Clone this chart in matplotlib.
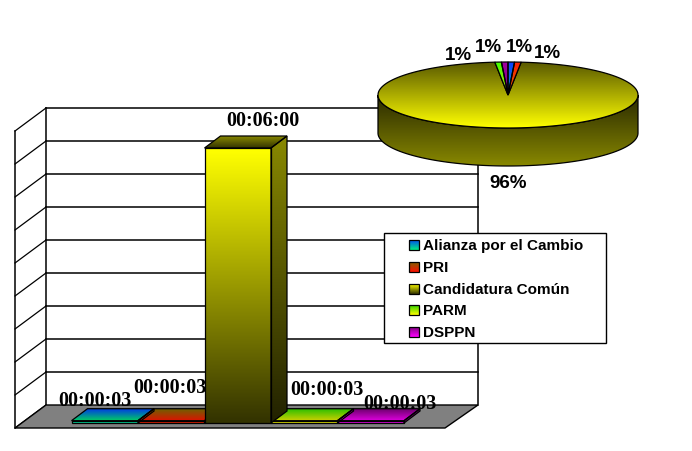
import numpy as np
import matplotlib
matplotlib.use('Agg')
import matplotlib.pyplot as plt
from matplotlib.patches import Polygon, Rectangle

# data
names = ['Alianza por el Cambio', 'PRI', 'Candidatura Común', 'PARM', 'DSPPN']
seconds = [3, 3, 360, 3, 3]
time_labels = ['00:00:03', '00:00:03', '00:06:00', '00:00:03', '00:00:03']
pie_labels = ['1%', '1%', '96%', '1%', '1%']
n_ticks = 9
tick_seconds = 43.2  # 0.0005 of a day

# gradient colours per series, top then bottom
face_top = ['#0050f0', '#806000', '#ffff00', '#30d000', '#800080']
face_bottom = ['#00f080', '#ff1000', '#333300', '#ffff00', '#ff00ff']
roof_top = ['#0040e0', '#706000', '#888800', '#30c000', '#700070']
roof_bottom = ['#00d060', '#e01000', '#333300', '#d0d000', '#e000e0']
side_top = ['#004080', '#603000', '#888800', '#606000', '#600060']
side_bottom = ['#006040', '#601000', '#222200', '#808000', '#800080']
strip = ['#00e0a0', '#f02000', '', '#f0f000', '#f000f0']
pie_top = ['#1040ff', '#ff2000', '', '#40ff00', '#a000a0']
pie_bottom = ['#00a0c0', '#e06000', '', '#c0e000', '#800080']

fig = plt.figure(figsize=(6.92, 4.52), dpi=100)
ax = fig.add_axes([0, 0, 1, 1])
ax.set_xlim(0, 692)
ax.set_ylim(452, 0)
ax.axis('off')

# plot geometry in pixels
wall_l, wall_r, floor_y = 46, 478, 406
wall_dx, wall_dy = 31, 23
tick_px = 33
scale = tick_px / tick_seconds
bar_left, bar_w, bar_base = 71.5, 66.5, 424
bar_dx, bar_dy = 16, 12


def grad(pts, top, bottom, z):
    # polygon filled with a vertical gradient
    pts = np.array(pts)
    c0 = np.array(matplotlib.colors.to_rgb(top))
    c1 = np.array(matplotlib.colors.to_rgb(bottom))
    t = np.linspace(0, 1, 64)[:, None, None]
    img = c0[None, None, :] * (1 - t) + c1[None, None, :] * t
    im = ax.imshow(img, extent=(pts[:, 0].min(), pts[:, 0].max(), pts[:, 1].max(), pts[:, 1].min()),
                   aspect='auto', zorder=z, interpolation='bilinear')
    clip = Polygon(pts, closed=True, transform=ax.transData, fc='none', ec='none')
    ax.add_patch(clip)
    im.set_clip_path(clip)
    ax.add_patch(Polygon(pts, closed=True, fc='none', ec='black', lw=0.9, zorder=z + 0.1))


# walls and gridlines
for i in range(n_ticks + 1):
    y = floor_y - i * tick_px
    if i > 0:
        ax.plot([wall_l, wall_r], [y, y], color='black', lw=1.1, zorder=1)
    ax.plot([wall_l, wall_l - wall_dx], [y, y + wall_dy], color='black', lw=0.9, zorder=1)
top_y = floor_y - n_ticks * tick_px
ax.plot([wall_l, wall_l], [top_y, floor_y], color='black', lw=1.1, zorder=1)
ax.plot([wall_r, wall_r], [top_y, floor_y], color='black', lw=1.1, zorder=1)
ax.plot([wall_l - wall_dx] * 2, [top_y + wall_dy, floor_y + wall_dy], color='black', lw=1.1, zorder=1)

# floor
ax.add_patch(Polygon([(wall_l, floor_y), (wall_r, floor_y), (wall_r - wall_dx - 2, floor_y + wall_dy),
                      (wall_l - wall_dx, floor_y + wall_dy)], closed=True, fc='#808080', ec='black', lw=1, zorder=2))

# labels behind the tall bar
label_x = [95, 170, 263, 327, 400]
label_y = [401, 388, 121, 390, 404]
for i, s in enumerate(time_labels):
    ax.text(label_x[i], label_y[i], s, family='Liberation Serif', weight='bold', fontsize=14.5,
            ha='center', va='center', zorder=3)

# bars, tall one last so it sits on top of its neighbours
for i in [0, 1, 3, 4, 2]:
    x0 = bar_left + i * bar_w
    x1 = x0 + bar_w
    h = seconds[i] * scale
    y0 = bar_base - h
    z = 6 if i == 2 else 5
    grad([(x1, y0), (x1 + bar_dx, y0 - bar_dy), (x1 + bar_dx, bar_base - bar_dy), (x1, bar_base)],
         side_top[i], side_bottom[i], z)
    grad([(x0, y0), (x1, y0), (x1 + bar_dx, y0 - bar_dy), (x0 + bar_dx, y0 - bar_dy)],
         roof_top[i], roof_bottom[i], z)
    if i == 2:
        grad([(x0, y0), (x1, y0), (x1, bar_base), (x0, bar_base)], face_top[i], face_bottom[i], z)
    else:
        ax.add_patch(Rectangle((x0, y0), bar_w, h, fc=strip[i], ec='black', lw=0.9, zorder=z))

# pie
cx, cy, rx, ry, depth = 508, 96, 130, 33, 38


def rim(a0, a1, dy=0, n=120):
    a = np.radians(np.linspace(a0, a1, n))
    return np.column_stack([cx + rx * np.sin(a), cy + dy - ry * np.cos(a)])


side = np.vstack([rim(90, 270), rim(270, 90, depth)])
grad(side, '#2a2a00', '#888800', 7)
total = sum(seconds)
ang = np.cumsum([0] + seconds) / total * 360
grad(np.vstack([[(cx, cy)], rim(ang[2], ang[3], n=200)]), '#5a5a00', '#ffff00', 8)
for i in [0, 1, 3, 4]:
    grad(np.vstack([[(cx, cy)], rim(ang[i], ang[i + 1], n=5)]), pie_top[i], pie_bottom[i], 8.5)
pie_lx = [458, 488, 508, 519, 547]
pie_ly = [56, 47, 184, 47, 54]
order = [3, 4, 2, 0, 1]  # left to right on the picture
for k, i in enumerate(order):
    ax.text(pie_lx[k], pie_ly[k], pie_labels[i], family='Liberation Sans', weight='bold', fontsize=13.5,
            ha='center', va='center', zorder=9)

# legend
ax.add_patch(Rectangle((384, 234), 222, 110, fc='white', ec='black', lw=1, zorder=10))
leg_y = [246, 268, 290, 311, 333]
for i, name in enumerate(names):
    sw = [(409, leg_y[i] - 5), (419, leg_y[i] - 5), (419, leg_y[i] + 5), (409, leg_y[i] + 5)]
    grad(sw, face_top[i], face_bottom[i], 11)
    ax.text(423, leg_y[i], name, family='Liberation Sans', weight='bold', fontsize=11,
            ha='left', va='center', zorder=11)

ax.set_xlim(0, 692)
ax.set_ylim(452, 0)
fig.savefig('out.png', dpi=100)
